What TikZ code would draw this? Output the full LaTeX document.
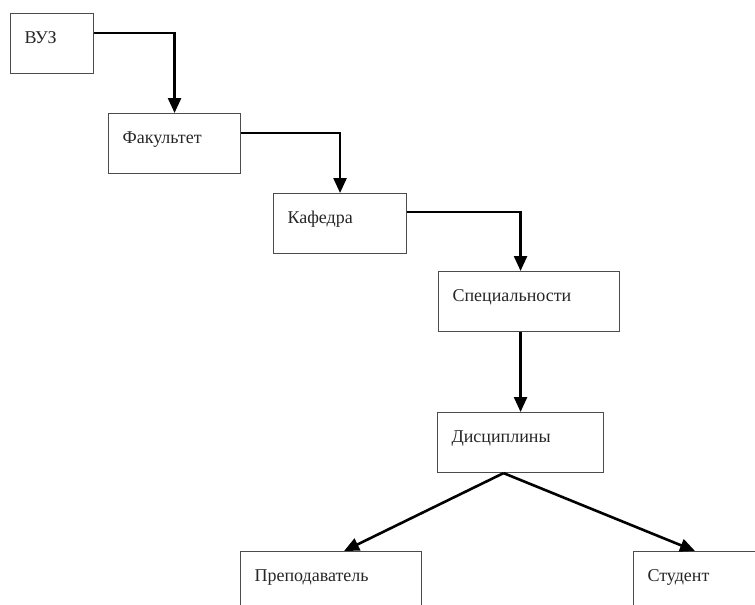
\documentclass[tikz,border=0pt]{standalone}
\usepackage{fontspec}
\setmainfont{Liberation Serif}
\usepackage{tikz}
\usetikzlibrary{arrows.meta,calc}

\begin{document}
\begin{tikzpicture}[x=1pt,y=-1pt,
  box/.style={draw=black!70,line width=1.1pt,rectangle,anchor=north west,
    inner xsep=14pt,inner ysep=0pt,text height=30pt,text depth=30pt,
    align=left,text=black!85,font=\fontsize{18}{21}\selectfont},
  link/.style={line width=2.6pt,-{Triangle[length=15pt,width=13pt]}}]
\useasboundingbox (0,0) rectangle (755,605);
\clip (0,0) rectangle (755,605);
\node[box,text width=55pt] (vuz) at (10,13) {ВУЗ};
\node[box,text width=104pt] (fak) at (108,113) {Факультет};
\node[box,text width=105pt] (kaf) at (273,193) {Кафедра};
\node[box,text width=153pt] (spec) at (438,271) {Специальности};
\node[box,text width=138pt] (disc) at (437,412) {Дисциплины};
\node[box,text width=153pt] (prep) at (240,551) {Преподаватель};
\node[box,text width=125pt] (stud) at (633,551) {Студент};
\draw[link] ([yshift=-20pt]vuz.north east) -| (fak.north);
\draw[link] ([yshift=-20pt]fak.north east) -| (kaf.north);
\draw[link] ([yshift=-19pt]kaf.north east) -| (disc.north |- spec.north);
\draw[link] (disc.north |- spec.south) -- (disc.north);
\draw[link] ([xshift=-17pt]disc.south) -- ([xshift=13pt]prep.north);
\draw[link] ([xshift=-17pt]disc.south) -- ([xshift=62pt]stud.north west);
\end{tikzpicture}
\end{document}
